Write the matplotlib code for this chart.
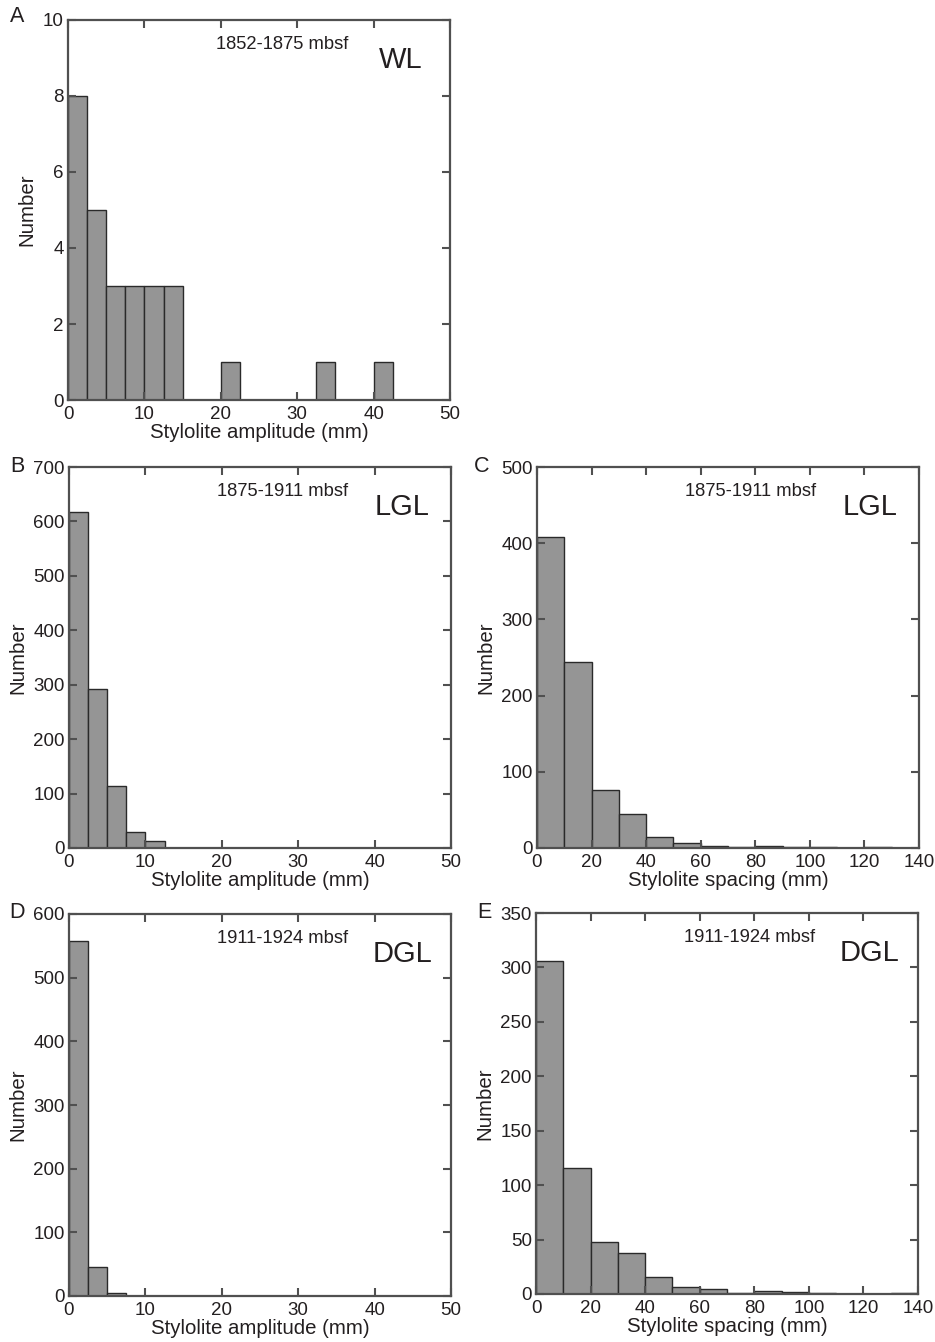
import numpy as np
import matplotlib
matplotlib.use("Agg")
import matplotlib.pyplot as plt

plt.rcParams['font.family'] = ['Liberation Sans', 'DejaVu Sans']

# ---- data ----
# Panel A (WL, 1852-1875 mbsf) amplitude, 2.5 mm bins from 0
amp_wl = [8, 5, 3, 3, 3, 3, 0, 0, 1, 0, 0, 0, 0, 1, 0, 0, 1]
# Panel B (LGL, 1875-1911 mbsf) amplitude, 2.5 mm bins
amp_lgl = [618, 292, 114, 29, 13]
# Panel C (LGL) spacing, 10 mm bins
sp_lgl = [408, 244, 76, 44, 15, 7, 3, 1, 3, 1, 1, 0, 1]
# Panel D (DGL, 1911-1924 mbsf) amplitude, 2.5 mm bins
amp_dgl = [557, 45, 5]
# Panel E (DGL) spacing, 10 mm bins
sp_dgl = [306, 116, 48, 38, 16, 6, 5, 1, 3, 2, 1, 0, 0, 1]

amp_bin = 2.5
sp_bin = 10.0

panels = [
    dict(letter='A', counts=amp_wl, bw=amp_bin, xmax=50, xticks=[0, 10, 20, 30, 40, 50],
         ymax=10, yticks=[0, 2, 4, 6, 8, 10], depth='1852-1875 mbsf', unit='WL',
         xlabel='Stylolite amplitude (mm)'),
    dict(letter='B', counts=amp_lgl, bw=amp_bin, xmax=50, xticks=[0, 10, 20, 30, 40, 50],
         ymax=700, yticks=[0, 100, 200, 300, 400, 500, 600, 700], depth='1875-1911 mbsf', unit='LGL',
         xlabel='Stylolite amplitude (mm)'),
    dict(letter='C', counts=sp_lgl, bw=sp_bin, xmax=140, xticks=[0, 20, 40, 60, 80, 100, 120, 140],
         ymax=500, yticks=[0, 100, 200, 300, 400, 500], depth='1875-1911 mbsf', unit='LGL',
         xlabel='Stylolite spacing (mm)'),
    dict(letter='D', counts=amp_dgl, bw=amp_bin, xmax=50, xticks=[0, 10, 20, 30, 40, 50],
         ymax=600, yticks=[0, 100, 200, 300, 400, 500, 600], depth='1911-1924 mbsf', unit='DGL',
         xlabel='Stylolite amplitude (mm)'),
    dict(letter='E', counts=sp_dgl, bw=sp_bin, xmax=140, xticks=[0, 20, 40, 60, 80, 100, 120, 140],
         ymax=350, yticks=[0, 50, 100, 150, 200, 250, 300, 350], depth='1911-1924 mbsf', unit='DGL',
         xlabel='Stylolite spacing (mm)'),
]

W, H = 935, 1342
fig = plt.figure(figsize=(W / 100, H / 100), dpi=100)

# axes boxes in pixels: left, top, right, bottom
boxes = {
    'A': (68, 20, 450, 400),
    'B': (69, 467, 451, 848),
    'C': (537, 467, 919, 848),
    'D': (69, 914, 451, 1296),
    'E': (536, 913, 918, 1294),
}
letter_pos = {'A': (17, 16), 'B': (17, 466), 'C': (482, 466), 'D': (17, 913), 'E': (484, 913)}

txt = '#231f20'
frame = '#505050'
bar_fc = '#959595'
bar_ec = '#2a2a2a'

for p in panels:
    l, t, r, b = boxes[p['letter']]
    ax = fig.add_axes([l / W, 1 - b / H, (r - l) / W, (b - t) / H])
    counts = np.asarray(p['counts'], dtype=float)
    left_edges = np.arange(len(counts)) * p['bw']
    ax.bar(left_edges, counts, width=p['bw'], align='edge', color=bar_fc,
           edgecolor=bar_ec, linewidth=1.0)
    ax.set_xlim(0, p['xmax'])
    ax.set_ylim(0, p['ymax'])
    ax.set_xticks(p['xticks'])
    ax.set_yticks(p['yticks'])
    ax.tick_params(direction='in', top=True, right=True, length=6, width=1.5,
                   color=frame, labelsize=13.5, labelcolor=txt)
    ax.tick_params(axis='x', pad=4)
    ax.tick_params(axis='y', pad=3)
    for s in ax.spines.values():
        s.set_color(frame)
        s.set_linewidth(1.6)
    ax.set_xlabel(p['xlabel'], fontsize=14.7, color=txt, labelpad=0)
    ax.set_ylabel('Number', fontsize=14.7, color=txt, labelpad=4.5)
    ax.text(0.56, 0.935, p['depth'], transform=ax.transAxes, ha='center', va='center',
            fontsize=13.2, color=txt)
    ax.text(0.872, 0.895, p['unit'], transform=ax.transAxes, ha='center', va='center',
            fontsize=21, color=txt)
    lx, ly = letter_pos[p['letter']]
    fig.text(lx / W, 1 - ly / H, p['letter'], ha='center', va='center', fontsize=15.5, color=txt)

fig.savefig('out.png', dpi=100, facecolor='white')
